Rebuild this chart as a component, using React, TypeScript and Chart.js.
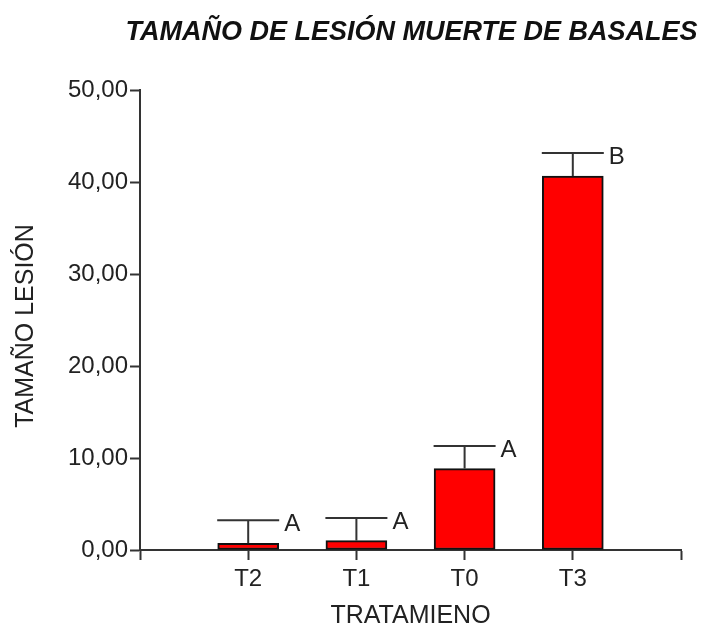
import React, { useEffect, useRef } from "react";
import { Chart, registerables } from "chart.js";

Chart.register(...registerables);

const categories = ["T2", "T1", "T0", "T3"];
const means = [0.73, 1.02, 8.85, 40.65];
const errors = [2.5, 2.45, 2.45, 2.5];
const letters = ["A", "A", "A", "B"];
const yTicks = [0, 10, 20, 30, 40, 50];

const TITLE = "TAMAÑO DE LESIÓN MUERTE DE BASALES";
const X_TITLE = "TRATAMIENO";
const Y_TITLE = "TAMAÑO LESIÓN";
const FONT = "'Liberation Sans', Arial, sans-serif";
const INK = "#222222";
const AXIS = "#333333";

const annotate = {
  id: "annotate",
  afterDatasetsDraw(chart: any) {
    const { ctx, scales, chartArea } = chart;
    const x = scales.x;
    const y = scales.y;
    ctx.save();
    ctx.strokeStyle = AXIS;
    ctx.lineWidth = 2;
    const half = 31;
    means.forEach((m, i) => {
      const px = x.getPixelForValue(i + 1);
      const top = y.getPixelForValue(m + errors[i]);
      const base = y.getPixelForValue(m);
      ctx.beginPath();
      ctx.moveTo(px, base);
      ctx.lineTo(px, top);
      ctx.moveTo(px - half, top);
      ctx.lineTo(px + half, top);
      ctx.stroke();
      ctx.fillStyle = INK;
      ctx.font = `24px ${FONT}`;
      ctx.textAlign = "left";
      ctx.textBaseline = "middle";
      ctx.fillText(letters[i], px + half + 5, top + 4);
    });
    const cx = (chartArea.left + chartArea.right) / 2;
    ctx.fillStyle = "#111111";
    ctx.font = `italic bold 27px ${FONT}`;
    ctx.textAlign = "center";
    ctx.textBaseline = "middle";
    ctx.fillText(TITLE, cx + 1, 33);
    ctx.fillStyle = INK;
    ctx.font = `25px ${FONT}`;
    ctx.fillText(X_TITLE, cx, 616);
    ctx.translate(26, (chartArea.top + chartArea.bottom) / 2 + 6);
    ctx.rotate(-Math.PI / 2);
    ctx.fillText(Y_TITLE, 0, 0);
    ctx.restore();
  },
};

export default function App() {
  const ref = useRef<HTMLCanvasElement>(null);
  useEffect(() => {
    if (!ref.current) return;
    const chart = new Chart(ref.current, {
      type: "bar",
      data: {
        datasets: [
          {
            data: means.map((m, i) => ({ x: i + 1, y: m })),
            backgroundColor: "#ff0000",
            borderColor: "#111111",
            borderWidth: 2,
            borderSkipped: false,
            barThickness: 61,
          },
        ],
      },
      options: {
        responsive: false,
        animation: false,
        layout: { padding: { top: 90, right: 23, left: 0, bottom: 0 } },
        plugins: {
          legend: { display: false },
          title: { display: false },
          tooltip: { enabled: false },
        },
        scales: {
          x: {
            type: "linear",
            min: 0,
            max: 5,
            offset: false,
            afterFit: (s: any) => {
              s.height = 80;
            },
            afterBuildTicks: (s: any) => {
              s.ticks = [0, 1, 2, 3, 4, 5].map((v) => ({ value: v }));
            },
            ticks: {
              autoSkip: false,
              maxRotation: 0,
              padding: 5,
              color: INK,
              font: { family: FONT, size: 24 },
              callback: (v: any) => categories[Number(v) - 1] ?? "",
            },
            grid: {
              offset: false,
              drawOnChartArea: false,
              drawTicks: true,
              tickLength: 10,
              tickColor: AXIS,
              tickWidth: 2,
            },
            border: { color: AXIS, width: 2 },
          },
          y: {
            type: "linear",
            min: 0,
            max: 50,
            afterFit: (s: any) => {
              s.width = 140;
            },
            afterBuildTicks: (s: any) => {
              s.ticks = yTicks.map((v) => ({ value: v }));
            },
            ticks: {
              padding: 2,
              color: INK,
              font: { family: FONT, size: 24 },
              callback: (v: any) => Number(v).toFixed(2).replace(".", ","),
            },
            grid: {
              drawOnChartArea: false,
              drawTicks: true,
              tickLength: 10,
              tickColor: AXIS,
              tickWidth: 2,
            },
            border: { color: AXIS, width: 2 },
          },
        },
      },
      plugins: [annotate],
    });
    return () => chart.destroy();
  }, []);
  return (
    <div style={{ position: "fixed", left: 0, top: 0, width: 704, height: 630, background: "#fff" }}>
      <canvas ref={ref} width={704} height={630} style={{ display: "block" }} />
    </div>
  );
}
